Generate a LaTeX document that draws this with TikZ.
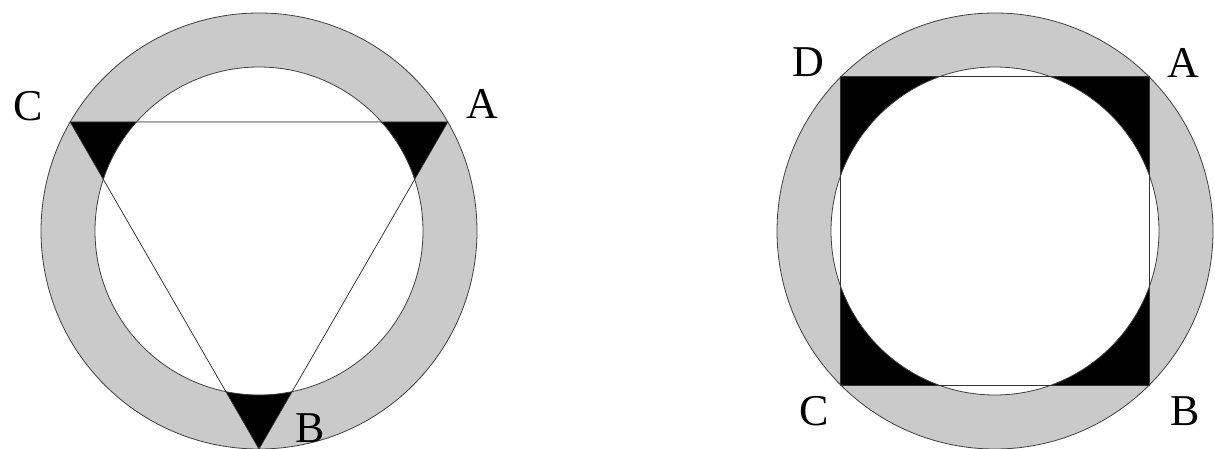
\documentclass[tikz,border=0pt]{standalone}
\usepackage{fontspec}
\setmainfont{Liberation Serif}
\definecolor{ringgray}{RGB}{202,202,202}
\begin{document}
\begin{tikzpicture}[x=1pt,y=-1pt,
  lbl/.style={font=\fontsize{44}{48}\selectfont, inner sep=0pt},
  edge/.style={draw=black!80, line width=0.7pt}]
\useasboundingbox (0,0) rectangle (1215,449);
% ---------- left figure ----------
\coordinate (O1) at (259,231);
\coordinate (A1) at (447.8,122);
\coordinate (C1) at (70.2,122);
\coordinate (B1) at (259,449);
\fill[ringgray] (O1) circle (218);
\draw[black!75, line width=0.8pt] (O1) circle (218);
\fill[white] (O1) circle (164);
\begin{scope}
  \clip (A1) -- (B1) -- (C1) -- cycle;
  \fill[black, even odd rule] (A1) -- (B1) -- (C1) -- cycle (O1) circle (164);
\end{scope}
\draw[black!75, line width=0.8pt] (O1) circle (164);
\draw[edge] (A1) -- (B1) -- (C1) -- cycle;
\node[lbl] (lA1) at (482,104) {A};
\node[lbl] (lC1) at (28,106) {C};
\node[lbl] (lB1) at (310,428) {B};
% ---------- right figure ----------
\coordinate (O2) at (995,231);
\coordinate (A2) at (1149.2,76.8);
\coordinate (B2) at (1149.2,385.2);
\coordinate (C2) at (840.8,385.2);
\coordinate (D2) at (840.8,76.8);
\fill[ringgray] (O2) circle (218);
\draw[black!75, line width=0.8pt] (O2) circle (218);
\fill[white] (O2) circle (164);
\begin{scope}
  \clip (A2) -- (B2) -- (C2) -- (D2) -- cycle;
  \fill[black, even odd rule] (A2) -- (B2) -- (C2) -- (D2) -- cycle (O2) circle (164);
\end{scope}
\draw[black!75, line width=0.8pt] (O2) circle (164);
\draw[edge] (A2) -- (B2) -- (C2) -- (D2) -- cycle;
\node[lbl] (lD2) at (808,62) {D};
\node[lbl] (lA2) at (1183,63) {A};
\node[lbl] (lC2) at (814,411) {C};
\node[lbl] (lB2) at (1185,411) {B};
\end{tikzpicture}
\end{document}
